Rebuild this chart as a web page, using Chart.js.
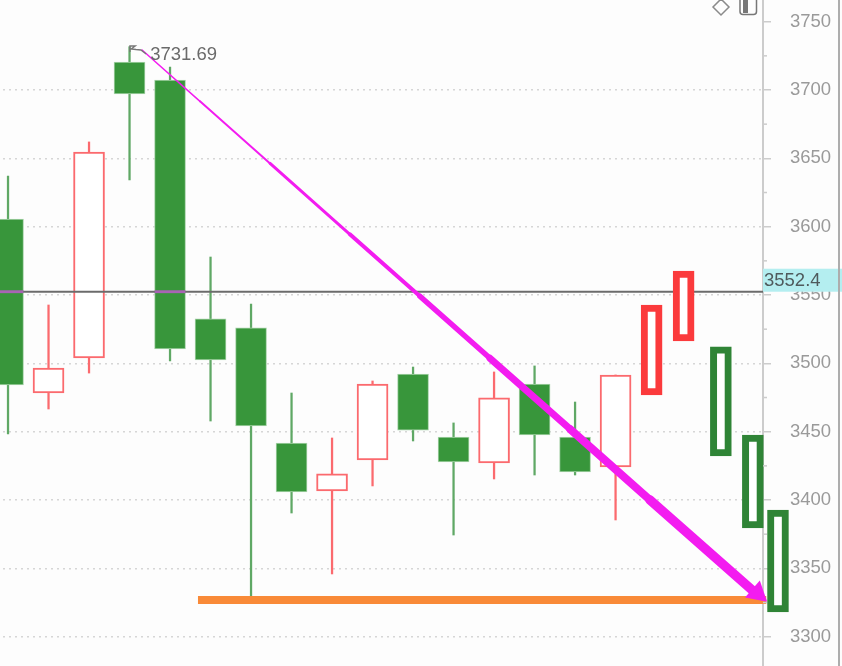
<!DOCTYPE html>
<html>
<head>
<meta charset="utf-8">
<style>
  html, body { margin: 0; padding: 0; background: #fdfdfd; overflow: hidden; }
  #chart { display: block; }
</style>
<script src="https://cdn.jsdelivr.net/npm/chart.js@4/dist/chart.umd.min.js"></script>
</head>
<body>
<canvas id="chart" width="842" height="666"></canvas>
<script>
// candles. x is the candle number
const candleX = [0, 1, 2, 3, 4, 5, 6, 7, 8, 9, 10, 11, 12, 13, 14, 15];
const opens = [3605.6, 3478.3, 3503.9, 3720.5, 3707.3, 3532.5, 3525.9, 3441.7, 3406.6, 3429.3, 3492.2, 3446.1, 3427.1, 3484.9, 3446.1, 3424.2];
const closes = [3484.2, 3496.6, 3654.6, 3697.1, 3510.5, 3502.5, 3454.2, 3405.9, 3419.1, 3484.9, 3451.2, 3427.8, 3474.7, 3447.6, 3420.5, 3491.5];
const highs = [3637.1, 3542.7, 3662.0, 3731.69, 3716.8, 3577.8, 3543.4, 3478.3, 3445.4, 3487.1, 3497.3, 3456.4, 3493.7, 3498.1, 3471.7, 3491.5];
const lows = [3448.3, 3466.6, 3492.9, 3634.2, 3501.7, 3457.8, 3329.1, 3390.5, 3345.9, 3410.3, 3443.2, 3374.4, 3415.4, 3418.3, 3418.3, 3385.4];

// hand drawn projection boxes
const redBoxX = [15.89, 16.68];
const redBoxHigh = [3542.7, 3567.6];
const redBoxLow = [3476.9, 3516.4];
const greenBoxX = [17.6, 18.39, 19.01];
const greenBoxHigh = [3512, 3447.6, 3392.7];
const greenBoxLow = [3432.2, 3379.5, 3318.1];

// magenta arrow from the top down to the orange support line
const arrowX = [3.31, 4.74, 6.47, 8.44, 10.17, 11.9, 13.88, 15.85, 18.37];
const arrowY = [3729.3, 3691.7, 3646.3, 3594.4, 3549.1, 3503.7, 3451.8, 3400, 3334.2];
const arrowHeadX = [18.5];
const arrowHeadY = [3331.8];

const supportX = [4.69, 18.72];
const supportY = [3326.9, 3326.9];

const hookX = [3.01, 3.01, 3.14, 3.04, 3.16, 3.28, 3.41];
const hookY = [3727.8, 3732.2, 3732.2, 3730, 3729.6, 3729.3, 3726.3];

const lastPrice = 3552.4;
const peakPrice = 3731.69;
const peakLabelX = 3.51;
const peakLabelY = 3725.6;
const yTicks = [3300, 3350, 3400, 3450, 3500, 3550, 3600, 3650, 3700, 3750];

const pairs = (xs, ys) => xs.map((x, i) => ({ x: x, y: ys[i] }));
const ranges = (xs, as, bs) => xs.map((x, i) => ({ x: x, y: [as[i], bs[i]] }));

const greenFill = "#38963b";
const greenEdge = "#a9d3ab";
const greenWick = "#5fa865";
const redLine = "#fb6a6e";
const magenta = "#f31cf0";
const font = "'Liberation Sans', Arial, sans-serif";
const arrowWidths = [1.5, 2, 3, 4, 5.5, 7, 8, 9.5];

const isUp = (i) => closes[i] > opens[i];
const upIdx = candleX.filter((i) => isUp(i));
const downIdx = candleX.filter((i) => !isUp(i));

const subset = (idx, as, bs) => idx.map((i) => ({ x: candleX[i], y: [as[i], bs[i]] }));

// dark-green candles that the last price line crosses show it purple
const crossed = downIdx.filter((i) => opens[i] > lastPrice && closes[i] < lastPrice);

const bar = (data, order, thickness, fill, edge, width) => ({
  type: "bar",
  data: data,
  order: order,
  barThickness: thickness,
  backgroundColor: fill,
  borderColor: edge,
  borderWidth: width,
  borderSkipped: false,
  grouped: false,
  clip: false,
});

const line = (data, order, color, width) => ({
  type: "line",
  data: data,
  order: order,
  borderColor: color,
  borderWidth: width,
  pointRadius: 0,
  tension: 0,
  clip: false,
});

const datasets = [
  bar(subset(upIdx, lows, highs), 9, 1.6, redLine, redLine, 0),
  bar(subset(downIdx, lows, highs), 9, 1.6, greenWick, greenWick, 0),
  bar(subset(upIdx, opens, closes), 8, 31, "#ffffff", redLine, 2),
  bar(subset(downIdx, opens, closes), 8, 31, greenFill, greenEdge, 1),
  line(pairs([candleX[0] - 0.2, 18.64], [lastPrice, lastPrice]), 6, "#6b6b6b", 2),
  bar(crossed.map((i) => ({ x: candleX[i], y: [lastPrice - 0.8, lastPrice + 0.8] })), 5, 30, "#a864b4", "#a864b4", 0),
  bar(ranges(redBoxX, redBoxLow, redBoxHigh), 4, 21, "#ffffff", "#fb3a3c", 7),
  bar(ranges(greenBoxX, greenBoxLow, greenBoxHigh), 4, 21, "#ffffff", "#2f8436", 7),
  line(pairs(supportX, supportY), 3, "#f98a38", 8),
  Object.assign(line(pairs(arrowX, arrowY), 2, magenta, 2), {
    borderCapStyle: "round",
    segment: { borderWidth: (ctx) => arrowWidths[ctx.p0DataIndex] },
  }),
  Object.assign(line(pairs(arrowHeadX, arrowHeadY), 1, magenta, 0), {
    pointStyle: "triangle",
    pointRadius: 13,
    pointBorderWidth: 0,
    pointBackgroundColor: magenta,
    pointRotation: 131,
    showLine: false,
  }),
  line(pairs(hookX, hookY), 1, "#777777", 1.4),
];

// short minor ticks, the price tag, the peak label and the toolbar icons
const extras = {
  id: "extras",
  afterDraw(chart) {
    const c = chart.ctx;
    const y = chart.scales.y;
    const x = chart.scales.x;
    const axisX = chart.chartArea.right;

    c.save();
    c.strokeStyle = "#cccccc";
    c.lineWidth = 1.5;
    yTicks.forEach((t) => {
      const py = y.getPixelForValue(t + 25);
      c.beginPath();
      c.moveTo(axisX, py);
      c.lineTo(axisX + 4, py);
      c.stroke();
    });

    const tagBottom = y.getPixelForValue(lastPrice);
    c.fillStyle = "#b4eef0";
    c.fillRect(axisX, tagBottom - 23, chart.width - axisX, 23);
    c.fillStyle = "#4f5a5c";
    c.font = "18.5px " + font;
    c.textAlign = "left";
    c.textBaseline = "middle";
    c.fillText(lastPrice.toFixed(1), axisX + 1, tagBottom - 11);

    c.fillStyle = "#6a6a6a";
    c.fillText(peakPrice.toFixed(2), x.getPixelForValue(peakLabelX), y.getPixelForValue(peakLabelY));

    c.fillStyle = "#adadad";
    c.fillRect(838, 0, 2, chart.height);

    c.strokeStyle = "#8a8a8a";
    c.lineWidth = 1.5;
    c.beginPath();
    c.moveTo(721, -1);
    c.lineTo(729, 7);
    c.lineTo(721, 15);
    c.lineTo(713, 7);
    c.closePath();
    c.stroke();

    c.strokeStyle = "#777777";
    c.beginPath();
    c.roundRect(740, -3, 16.5, 17.5, 3);
    c.stroke();
    c.fillStyle = "#777777";
    c.fillRect(743, -1, 5, 14);
    c.restore();
  },
};

new Chart(document.getElementById("chart"), {
  data: { datasets: datasets },
  plugins: [extras],
  options: {
    responsive: false,
    animation: false,
    layout: { padding: 0, autoPadding: false },
    plugins: {
      legend: { display: false },
      tooltip: { enabled: false },
    },
    scales: {
      x: {
        type: "linear",
        min: -0.198,
        max: 18.64,
        offset: false,
        display: false,
      },
      y: {
        type: "linear",
        position: "right",
        min: 3278.56,
        max: 3765.85,
        afterFit: (scale) => {
          scale.width = 79;
          scale.paddingTop = 0;
          scale.paddingBottom = 0;
        },
        border: {
          color: "#cccccc",
          width: 2,
          dash: [2, 4],
          dashOffset: 3,
        },
        grid: {
          lineWidth: 1.5,
          tickLength: 8,
          color: (ctx) => (ctx.tick && ctx.tick.value < 3750 ? "#d6d6d6" : "rgba(0,0,0,0)"),
          tickColor: "#cccccc",
          tickWidth: 1.5,
        },
        ticks: {
          includeBounds: false,
          autoSkip: false,
          padding: 19,
          color: "#9a9a9a",
          font: { family: font, size: 18.5 },
          callback: (v) => String(v),
        },
        afterBuildTicks: (scale) => {
          scale.ticks = yTicks.map((v) => ({ value: v }));
        },
      },
    },
  },
});
</script>
</body>
</html>
